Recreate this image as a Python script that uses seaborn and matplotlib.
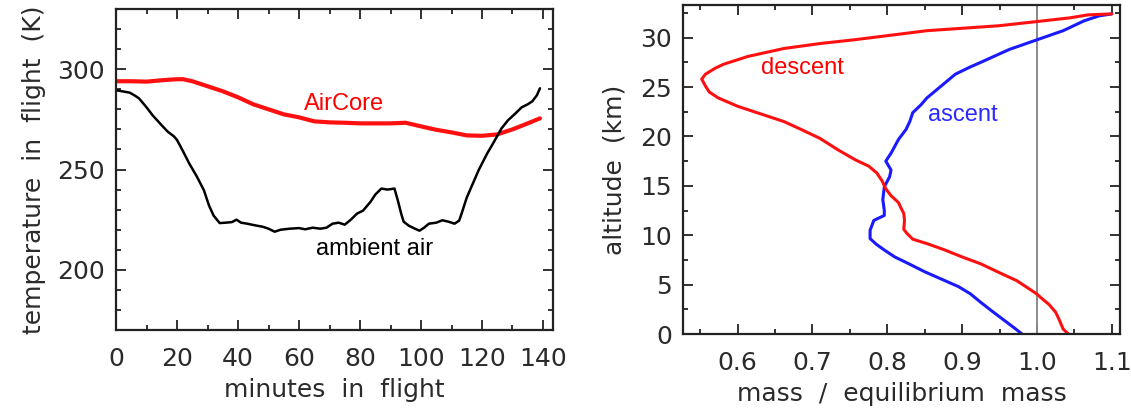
import numpy as np
import pandas as pd
import matplotlib
matplotlib.use("Agg")
import matplotlib.pyplot as plt
from matplotlib.ticker import MultipleLocator
import seaborn as sns

# ---------------- data ----------------
ambient_min = [0, 2, 4.5, 6, 7.5, 10, 12, 15, 17, 19, 20, 22, 24, 26.5, 28.8, 30.5, 32, 34,
               36, 38, 39.5, 41, 43, 45.5, 48, 50, 52, 54, 57, 60, 62, 64.5, 67, 69, 71, 73,
               75, 77, 79, 81, 83.5, 85, 87, 89, 91.3, 92.5, 93.5, 94.3, 96, 98, 99.5, 101,
               102.6, 105, 107, 109, 111, 112.5, 113.3, 115, 117, 119, 121.7, 124, 126.4,
               128.5, 131, 133, 135, 136.5, 138, 139]
ambient_K = [289.5, 289, 288.3, 287, 285.5, 281, 277, 272, 268.8, 266.5, 264.7, 259, 253,
             246.5, 239.7, 232, 227, 223.3, 223.5, 223.8, 225, 223.5, 223, 222.2, 221.5,
             220.5, 219, 220, 220.5, 220.8, 220.2, 221, 220.5, 221, 223, 223.5, 222.5, 225,
             228, 229.5, 234, 237.5, 240.5, 240, 240.5, 234, 228, 224, 222, 220.5, 219.5,
             221, 223, 223.5, 224.7, 224, 223, 224.5, 228, 236, 243, 250, 258, 264, 270.5,
             274.5, 278, 281, 282.5, 284, 287, 290.5]

aircore_min = [0, 5, 10, 15, 20, 22, 25, 30, 35, 40, 45, 50, 55, 60, 65, 70, 75, 80, 85, 90,
               95, 100, 105, 110, 115, 120, 125, 130, 135, 139]
aircore_K = [294, 294, 293.8, 294.5, 295, 295, 294, 291.5, 289, 286, 282.5, 280, 277.5, 276,
             274, 273.5, 273.3, 273, 273, 273, 273.3, 271.5, 269.8, 268.5, 267, 266.8, 267.5,
             270, 273, 275.5]

descent_ratio = [1.042, 1.035, 1.03, 1.025, 1.016, 1.008, 0.999, 0.985, 0.973, 0.95, 0.925,
                 0.9, 0.877, 0.855, 0.834, 0.826, 0.822, 0.823, 0.822, 0.818, 0.815, 0.805,
                 0.798, 0.793, 0.786, 0.775, 0.758, 0.735, 0.71, 0.685, 0.662, 0.63, 0.6,
                 0.574, 0.562, 0.557, 0.552, 0.557, 0.57, 0.581, 0.614, 0.662, 0.71, 0.758,
                 0.853, 0.949, 0.997, 1.044, 1.068, 1.1]
descent_km = [0, 0.5, 1.4, 2.2, 3.0, 3.5, 4.1, 4.8, 5.4, 6.2, 7.1, 7.8, 8.5, 9.1, 9.6, 10.2,
              10.6, 11.5, 12.2, 12.8, 13.3, 14.0, 14.7, 15.5, 16.3, 17.0, 17.6, 18.6, 19.8,
              20.7, 21.5, 22.3, 23.05, 23.9, 24.5, 25.1, 25.8, 26.3, 26.9, 27.3, 28.1, 28.9,
              29.4, 29.8, 30.7, 31.2, 31.6, 32.0, 32.3, 32.4]

ascent_ratio = [0.98, 0.97, 0.963, 0.939, 0.925, 0.911, 0.895, 0.877, 0.85, 0.829, 0.81,
                0.796, 0.785, 0.777, 0.777, 0.782, 0.796, 0.796, 0.794, 0.796, 0.803, 0.805,
                0.798, 0.805, 0.81, 0.815, 0.825, 0.83, 0.834, 0.845, 0.853, 0.872, 0.891,
                0.91, 0.925, 0.963, 0.997, 1.035, 1.063, 1.083, 1.1]
ascent_km = [0, 0.6, 1.0, 2.37, 3.2, 4.07, 4.8, 5.4, 6.3, 7.1, 7.8, 8.5, 9.1, 9.66, 10.5,
             11.5, 12.0, 12.5, 13.6, 14.9, 15.9, 16.6, 17.5, 18.3, 19.0, 19.7, 20.7, 21.5,
             22.4, 23.2, 23.9, 25.1, 26.3, 27.0, 27.5, 28.8, 29.7, 30.7, 31.7, 32.2, 32.4]

equilibrium_ratio = 1.0

# ---------------- style ----------------
sns.set_theme(style="ticks")
plt.rcParams['font.family'] = ['DejaVu Sans']
plt.rcParams['axes.linewidth'] = 1.6
plt.rcParams['axes.edgecolor'] = '#222222'

fig = plt.figure(figsize=(11.31, 4.17), dpi=100)
ax1 = fig.add_axes([0.1026, 0.2086, 0.3864, 0.7698])
ax2 = fig.add_axes([0.6039, 0.199, 0.3864, 0.789])

TICK_FS = 18
LABEL_FS = 18
NOTE_FS = 17
TXT = '#2a2a2a'

def style_axes(ax):
    ax.tick_params(which='both', direction='in', top=True, right=True,
                   colors='#222222', labelcolor=TXT, labelsize=TICK_FS)
    ax.tick_params(which='major', length=7, width=1.3)
    ax.tick_params(which='minor', length=3.5, width=1.3)
    ax.tick_params(axis='x', which='major', pad=12)
    ax.tick_params(axis='y', which='major', pad=8)
    for s in ax.spines.values():
        s.set_visible(True)
        s.set_linewidth(1.6)
        s.set_color('#222222')

# ---------------- left panel ----------------
sns.lineplot(x=aircore_min, y=aircore_K, ax=ax1, color='#ff1010', linewidth=3.0,
             sort=False, estimator=None)
sns.lineplot(x=ambient_min, y=ambient_K, ax=ax1, color='black', linewidth=1.8,
             sort=False, estimator=None)
ax1.set_xlim(0, 143.3)
ax1.set_ylim(170, 330)
ax1.xaxis.set_major_locator(MultipleLocator(20))
ax1.xaxis.set_minor_locator(MultipleLocator(10))
ax1.yaxis.set_major_locator(MultipleLocator(50))
ax1.yaxis.set_minor_locator(MultipleLocator(10))
ax1.set_yticks([200, 250, 300])
style_axes(ax1)
ax1.set_xlabel("minutes  in  flight", fontsize=LABEL_FS, color=TXT, labelpad=5)
ax1.set_ylabel("temperature  in  flight  (K)", fontsize=LABEL_FS, color=TXT, labelpad=8)
ax1.text(74.8, 282.5, "AirCore", color='#ff0000', fontsize=NOTE_FS,
         family='Liberation Sans', ha='center', va='center')
ax1.text(84.8, 210.5, "ambient air", color='black', fontsize=NOTE_FS,
         family='Liberation Sans', ha='center', va='center')

# ---------------- right panel ----------------
ax2.axvline(equilibrium_ratio, color='#8a8a8a', linewidth=1.4, zorder=1)
sns.lineplot(x=ascent_ratio, y=ascent_km, ax=ax2, color='#1a1aff', linewidth=2.2,
             sort=False, estimator=None)
sns.lineplot(x=descent_ratio, y=descent_km, ax=ax2, color='#ff1010', linewidth=2.2,
             sort=False, estimator=None)
ax2.set_xlim(0.527, 1.111)
ax2.set_ylim(0, 33.3)
ax2.xaxis.set_major_locator(MultipleLocator(0.1))
ax2.xaxis.set_minor_locator(MultipleLocator(0.05))
ax2.yaxis.set_major_locator(MultipleLocator(5))
ax2.yaxis.set_minor_locator(MultipleLocator(2.5))
ax2.set_xticks([0.6, 0.7, 0.8, 0.9, 1.0, 1.1])
ax2.set_xticklabels(["0.6", "0.7", "0.8", "0.9", "1.0", "1.1"])
style_axes(ax2)
ax2.set_xlabel("mass  /  equilibrium  mass", fontsize=LABEL_FS, color=TXT, labelpad=5)
ax2.set_ylabel("altitude  (km)", fontsize=LABEL_FS, color=TXT, labelpad=10)
ax2.text(0.686, 26.95, "descent", color='#ff0000', fontsize=NOTE_FS,
         family='Liberation Sans', ha='center', va='center')
ax2.text(0.901, 22.2, "ascent", color='#2a2aff', fontsize=NOTE_FS,
         family='Liberation Sans', ha='center', va='center')

fig.savefig("out.png", dpi=100)
